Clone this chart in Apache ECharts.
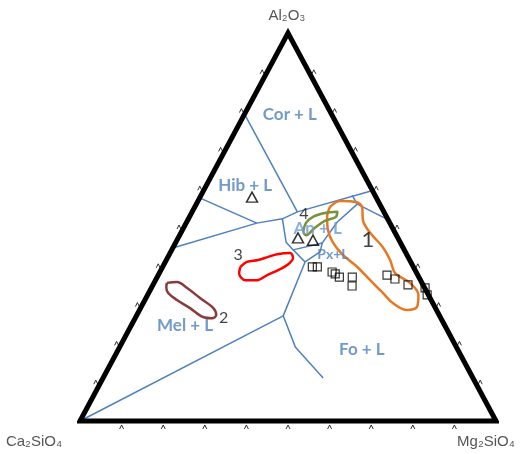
<!DOCTYPE html>
<html><head><meta charset="utf-8">
<script src="https://cdn.jsdelivr.net/npm/echarts@6/dist/echarts.min.js"></script>
<style>html,body{margin:0;padding:0;background:#fff}#c{width:521px;height:454px}</style>
</head><body><div id="c"></div>
<script>
// All compositions are [Al2O3, Mg2SiO4] in percent; Ca2SiO4 = 100 - Al2O3 - Mg2SiO4
const tickValues = [10,20,30,40,50,60,70,80,90];
const vertexNames = ['Al₂O₃','Ca₂SiO₄','Mg₂SiO₄'];

// liquidus field boundaries
const bCorHib   = [[79.1,0],[53.9,25.3]];
const bHibLower = [[57.5,0],[51.0,17.0]];
const bLong     = [[44.6,0],[51.0,17.0],[52.1,22.6],[53.9,25.3],[59.3,40.3]];
const bAnLeft   = [[52.1,22.6],[46.1,26.5],[44.1,29.2]];
const bPxDown   = [[44.1,29.2],[41.0,33.6],[27.1,35.3],[19.1,42.2],[11.1,52.9]];
const bMelFo    = [[0,0],[27.1,35.3]];
const bAnPx     = [[44.1,29.2],[45.9,35.3]];
const bAnFo     = [[41.0,33.6],[43.6,35.9],[45.9,35.3],[51.3,36.2],[55.9,38.7]];
const bSpLow    = [[55.9,38.7],[52.1,47.6]];
const bSpUp     = [[55.9,38.7],[58.2,36.3]];

// composition fields (closed outlines)
const field1 = [[55.2,32.5],[56.7,34.2],[56.4,38.4],[54.9,40.4],[51.8,42.1],[48.5,45.5],[44.8,50.4],[41.5,53.8],[38.1,56.7],[35.6,61.5],[32.5,65.1],[29.4,66.3],[28.6,64.3],[30.4,60.0],[33.0,56.3],[36.3,51.6],[39.7,46.8],[42.8,41.8],[45.9,37.9],[49.2,35.0],[52.6,33.1]];
const field2 = [[35.6,3.1],[35.8,5.4],[34.3,8.6],[31.7,13.0],[29.1,17.5],[27.3,19.1],[26.5,18.5],[26.8,16.2],[29.1,11.9],[31.2,7.7],[33.0,4.7],[34.5,3.5]];
const field3 = [[39.7,18.7],[41.0,19.6],[41.5,22.1],[42.3,24.1],[43.0,25.9],[43.3,28.9],[42.0,30.2],[40.2,29.7],[38.9,28.2],[37.6,26.2],[36.3,24.4],[36.3,21.6],[38.1,19.2]];
const field4 = [[48.7,29.3],[51.0,28.8],[52.6,29.7],[53.6,32.1],[53.9,34.9],[52.6,35.2],[51.5,33.0],[49.7,31.5],[47.9,30.4]];

// analysed samples
const triPoints = [[57.7,12.5],[47.2,28.8],[46.6,32.7]];
const sqPoints  = [[39.7,36.0],[39.7,37.2],[38.4,41.4],[37.9,42.4],[37.1,43.8],[37.1,46.9],[34.8,48.0],[37.6,55.0],[36.6,57.4],[35.1,61.3],[34.3,65.8],[32.5,67.2]];

// labels
const fieldNames = ['Cor + L','Hib + L','An + L','Px+L','Mel + L','Fo + L'];
const fieldAt    = [[78.9,11.0],[60.8,9.3],[49.7,32.3],[42.8,39.4],[24.5,13.0],[18.3,58.6]];
const numNames   = ['1','2','3','4'];
const numAt      = [[46.6,45.9],[26.5,21.3],[42.8,16.6],[53.4,27.1]];

function tx(p){ return [(p[1] + p[0]/2)/100, p[0]/100]; }
function poly(arr, color, width, closed, smooth){
  const d = arr.map(tx); if (closed) d.push(d[0]);
  return {type:'line', data:d, symbol:'none', silent:true, clip:false, smooth: smooth||false,
    lineStyle:{color:color, width:width, join:'round'}, z:3};
}
const BLUE = '#4f81bd';
const series = [];
// triangle frame: Ca2SiO4 -> Mg2SiO4 -> Al2O3 -> back
series.push({type:'line', data:[[0,0],[0,100],[100,0],[0,0],[0,100]].map(tx),
  symbol:'none', silent:true, clip:false, lineStyle:{color:'#000', width:5, join:'miter'}, z:5});
[bCorHib,bHibLower,bLong,bAnLeft,bPxDown,bMelFo,bAnPx,bAnFo,bSpLow,bSpUp].forEach(b=>series.push(poly(b,BLUE,1.5)));
series.push(poly(field1,'#e87722',2.5,true,0.35));
series.push(poly(field2,'#8b3a3a',2.5,true,0.35));
series.push(poly(field3,'#ff0000',2.5,true,0.35));
series.push(poly(field4,'#77933c',2.5,true,0.35));
series.push({type:'scatter', data:triPoints.map(tx), symbol:'triangle', symbolSize:[11,10], silent:true,
  itemStyle:{color:'rgba(0,0,0,0)', borderColor:'#000', borderWidth:1.5}, z:6});
series.push({type:'scatter', data:sqPoints.map(tx), symbol:'rect', symbolSize:8, silent:true,
  itemStyle:{color:'rgba(0,0,0,0)', borderColor:'#000', borderWidth:1.2}, z:6});
// ticks
const caret = 'path://M0,8L4,0L8,8';
const tickStyle = {color:'rgba(0,0,0,0)', borderColor:'#000', borderWidth:1};
series.push({type:'scatter', data:tickValues.map(v=>tx([0,v])), symbol:caret, symbolSize:[4,4], symbolOffset:[0,6], silent:true, itemStyle:tickStyle, z:6});
series.push({type:'scatter', data:tickValues.map(v=>tx([v,0])), symbol:caret, symbolSize:[4,4], symbolOffset:[-5,0], silent:true, itemStyle:tickStyle, z:6});
series.push({type:'scatter', data:tickValues.map(v=>tx([v,100-v])), symbol:caret, symbolSize:[4,4], symbolOffset:[5,0], silent:true, itemStyle:tickStyle, z:6});
// field labels
series.push({type:'scatter', symbolSize:0, silent:true, z:7,
  data: fieldNames.map((n,i)=>({name:n, value:tx(fieldAt[i]),
    label: n==='Px+L' ? {fontSize:14} : (n==='An + L' ? {color:'#6d9ad6'} : {})})),
  label:{show:true, position:'inside', formatter:'{b}', color:BLUE, fontFamily:'Lato', fontWeight:'bold', fontSize:17}});
series.push({type:'scatter', symbolSize:0, silent:true, z:7,
  data: numNames.map((n,i)=>({name:n, value:tx(numAt[i]), label: n==='1'?{fontSize:22}:{}})),
  label:{show:true, position:'inside', formatter:'{b}', color:'#111', fontFamily:'Lato', fontSize:16}});
// vertex labels
const vertexAt = [[100,0],[0,0],[0,100]];
const vertexOffset = [[-1,-17],[-46,21],[-10,21]];
series.push({type:'scatter', symbolSize:0, silent:true, z:7,
  data: vertexNames.map((n,i)=>({name:n, value:tx(vertexAt[i]), label:{offset:vertexOffset[i]}})),
  label:{show:true, position:'inside', formatter:'{b}', fontSize:15, color:'#2b2b2b', fontFamily:'Liberation Sans, DejaVu Sans, sans-serif'}});

const chart = echarts.init(document.getElementById('c'), null, {renderer:'canvas'});
chart.setOption({
  animation:false,
  backgroundColor:'#fff',
  grid:{left:80, top:33, width:416, height:388},
  xAxis:{type:'value', min:0, max:1, show:false},
  yAxis:{type:'value', min:0, max:1, show:false},
  series: series
});
</script></body></html>
